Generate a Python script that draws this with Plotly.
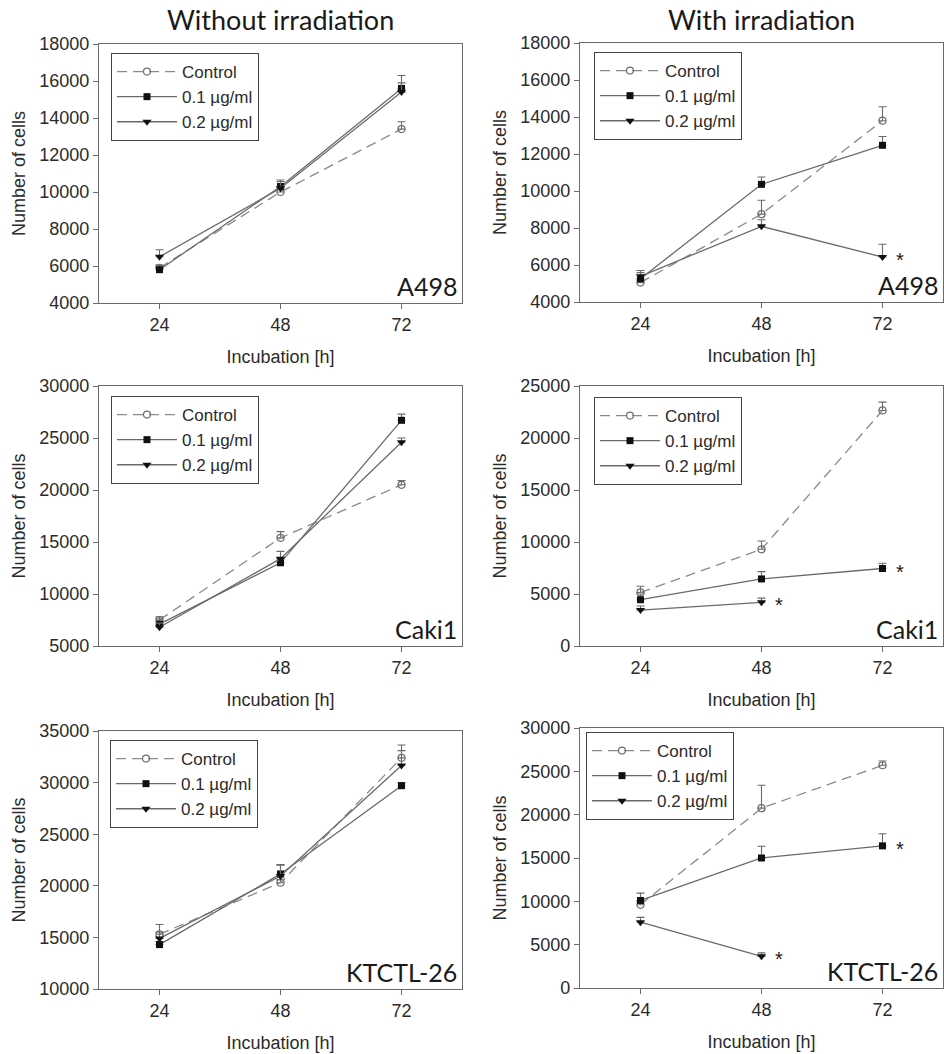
import plotly.graph_objects as go

# ---------------- data ----------------
hours = [24, 48, 72]
series_names = ["Control", "0.1 µg/ml", "0.2 µg/ml"]
col_titles = ["Without irradiation", "With irradiation"]
cell_lines = ["A498", "Caki1", "KTCTL-26"]

# A498 without irradiation
a498_wo_ctrl = [5900, 10000, 13400]
a498_wo_ctrl_err = [150, 250, 400]
a498_wo_01 = [5800, 10300, 15600]
a498_wo_01_err = [200, 270, 300]
a498_wo_02 = [6500, 10200, 15400]
a498_wo_02_err = [380, 450, 900]

# A498 with irradiation
a498_w_ctrl = [5050, 8750, 13800]
a498_w_ctrl_err = [150, 750, 750]
a498_w_01 = [5260, 10360, 12470]
a498_w_01_err = [440, 400, 480]
a498_w_02 = [5390, 8090, 6430]
a498_w_02_err = [200, 360, 690]

# Caki1 without irradiation
caki_wo_ctrl = [7500, 15400, 20500]
caki_wo_ctrl_err = [300, 600, 400]
caki_wo_01 = [7100, 13000, 26700]
caki_wo_01_err = [500, 400, 600]
caki_wo_02 = [6800, 13400, 24600]
caki_wo_02_err = [400, 700, 400]

# Caki1 with irradiation
caki_w_ctrl = [5150, 9300, 22650]
caki_w_ctrl_err = [600, 800, 800]
caki_w_01 = [4450, 6450, 7450]
caki_w_01_err = [550, 700, 500]
caki_w_02 = [3450, 4200, None]
caki_w_02_err = [400, 400, 0]

# KTCTL-26 without irradiation
ktctl_wo_ctrl = [15300, 20300, 32400]
ktctl_wo_ctrl_err = [950, 300, 1250]
ktctl_wo_01 = [14300, 21150, 29700]
ktctl_wo_01_err = [300, 900, 300]
ktctl_wo_02 = [14900, 20950, 31650]
ktctl_wo_02_err = [600, 1050, 1450]

# KTCTL-26 with irradiation
ktctl_w_ctrl = [9600, 20750, 25700]
ktctl_w_ctrl_err = [400, 2650, 500]
ktctl_w_01 = [10100, 15000, 16400]
ktctl_w_01_err = [850, 1350, 1400]
ktctl_w_02 = [7600, 3650, None]
ktctl_w_02_err = [550, 400, 0]

# significance markers: (series index, hour)
a498_w_sig = [(2, 72)]
caki_w_sig = [(1, 72), (2, 48)]
ktctl_w_sig = [(1, 72), (2, 48)]

# y-axis ranges / ticks
a498_range, a498_dtick = [4000, 18000], 2000
caki_wo_range, caki_w_range = [5000, 30000], [0, 25000]
ktctl_wo_range, ktctl_w_range = [10000, 35000], [0, 30000]
big_dtick = 5000

panels = [
    dict(ctrl=(a498_wo_ctrl, a498_wo_ctrl_err), c01=(a498_wo_01, a498_wo_01_err), c02=(a498_wo_02, a498_wo_02_err),
         rng=a498_range, dtick=a498_dtick, label=cell_lines[0], sig=[]),
    dict(ctrl=(a498_w_ctrl, a498_w_ctrl_err), c01=(a498_w_01, a498_w_01_err), c02=(a498_w_02, a498_w_02_err),
         rng=a498_range, dtick=a498_dtick, label=cell_lines[0], sig=a498_w_sig),
    dict(ctrl=(caki_wo_ctrl, caki_wo_ctrl_err), c01=(caki_wo_01, caki_wo_01_err), c02=(caki_wo_02, caki_wo_02_err),
         rng=caki_wo_range, dtick=big_dtick, label=cell_lines[1], sig=[]),
    dict(ctrl=(caki_w_ctrl, caki_w_ctrl_err), c01=(caki_w_01, caki_w_01_err), c02=(caki_w_02, caki_w_02_err),
         rng=caki_w_range, dtick=big_dtick, label=cell_lines[1], sig=caki_w_sig),
    dict(ctrl=(ktctl_wo_ctrl, ktctl_wo_ctrl_err), c01=(ktctl_wo_01, ktctl_wo_01_err), c02=(ktctl_wo_02, ktctl_wo_02_err),
         rng=ktctl_wo_range, dtick=big_dtick, label=cell_lines[2], sig=[]),
    dict(ctrl=(ktctl_w_ctrl, ktctl_w_ctrl_err), c01=(ktctl_w_01, ktctl_w_01_err), c02=(ktctl_w_02, ktctl_w_02_err),
         rng=ktctl_w_range, dtick=big_dtick, label=cell_lines[2], sig=ktctl_w_sig),
]

# ---------------- layout geometry (page pixels) ----------------
W, H = 944, 1054
x_px = [(99, 462), (580, 943)]
y_px = [[(44, 303), (43, 302)], [(386, 646), (386, 646)], [(731, 989), (728, 988)]]
legend_off = [(12, 9), (14, 9), (12, 10), (14, 11), (11, 9), (6, 4)]

def px_x(v):
    return v / W

def px_y(v):
    return 1 - v / H

TXT = "#2b2b2b"
AX = "#6a6a6a"
FONT = "Liberation Sans, Arial, sans-serif"
BIGFONT = "Lato, Open Sans, sans-serif"

styles = [
    dict(line=dict(color="#8a8a8a", width=1.3, dash="10px,6px"),
         marker=dict(symbol="circle-open", size=7, color="#707070", line=dict(width=1.2, color="#707070"))),
    dict(line=dict(color="#6a6a6a", width=1.3),
         marker=dict(symbol="square", size=7, color="#111111")),
    dict(line=dict(color="#6a6a6a", width=1.3),
         marker=dict(symbol="triangle-down", size=8, color="#111111")),
]

fig = go.Figure()
layout = dict(width=W, height=H, margin=dict(l=0, r=0, t=0, b=0, autoexpand=False),
              paper_bgcolor="white", plot_bgcolor="white",
              font=dict(family=FONT, size=18, color=TXT), annotations=[])

for i, p in enumerate(panels):
    r, c = divmod(i, 2)
    n = i + 1
    xa = "x" if n == 1 else f"x{n}"
    ya = "y" if n == 1 else f"y{n}"
    lg = "legend" if n == 1 else f"legend{n}"
    for s, key in enumerate(["ctrl", "c01", "c02"]):
        vals, errs = p[key]
        fig.add_trace(go.Scatter(
            x=hours, y=vals, mode="lines+markers", name=series_names[s],
            xaxis=xa, yaxis=ya, legend=lg,
            line=styles[s]["line"], marker=styles[s]["marker"],
            error_y=dict(type="data", symmetric=False, array=errs, arrayminus=[0] * len(errs),
                         color="#6a6a6a", thickness=1.1, width=4),
        ))
    x0, x1 = x_px[c]
    y0, y1 = y_px[r][c]
    xd = [px_x(x0), px_x(x1)]
    yd = [px_y(y1), px_y(y0)]
    axis_common = dict(showline=True, mirror=True, linecolor=AX, linewidth=1.2,
                       ticks="outside", ticklen=5, tickcolor=AX, showgrid=False, zeroline=False,
                       automargin=False, tickfont=dict(size=18, color=TXT))
    layout["xaxis" if n == 1 else f"xaxis{n}"] = dict(
        domain=xd, anchor=ya, range=[12, 84], tickvals=hours,
        title=dict(text="Incubation [h]", standoff=16, font=dict(size=18, color=TXT)), **axis_common)
    layout["yaxis" if n == 1 else f"yaxis{n}"] = dict(
        domain=yd, anchor=xa, range=p["rng"], dtick=p["dtick"], tick0=0, tickformat="d",
        title=dict(text="Number of cells", standoff=8, font=dict(size=18, color=TXT)), **axis_common)
    lx, ly = legend_off[i]
    layout[lg] = dict(x=px_x(x0 + lx), y=px_y(y0 + ly), xanchor="left", yanchor="top",
                      xref="paper", yref="paper",
                      bordercolor="#444444", borderwidth=1, bgcolor="white",
                      font=dict(size=17, color=TXT), itemwidth=60, tracegroupgap=0)
    # cell line label
    layout["annotations"].append(dict(
        text=p["label"], xref=f"{xa} domain", yref=f"{ya} domain", x=1, y=0,
        xanchor="right", yanchor="bottom", xshift=-3, yshift=0, showarrow=False,
        font=dict(family=BIGFONT, size=25, color="#1a1a1a")))
    # significance asterisks
    series_vals = [p["ctrl"][0], p["c01"][0], p["c02"][0]]
    for s_idx, hr in p["sig"]:
        yv = series_vals[s_idx][hours.index(hr)]
        layout["annotations"].append(dict(
            text="*", x=hr, y=yv, xref=xa, yref=ya, showarrow=False,
            xanchor="center", yanchor="middle", xshift=17, yshift=-3,
            font=dict(size=20, color="#1a1a1a")))

# column titles
for c, t in enumerate(col_titles):
    x0, x1 = x_px[c]
    layout["annotations"].append(dict(
        text=t, xref="paper", yref="paper", x=px_x((x0 + x1) / 2), y=px_y(20),
        xanchor="center", yanchor="middle", showarrow=False,
        font=dict(family=BIGFONT, size=27, color="#1a1a1a")))

fig.update_layout(**layout)
fig.update_layout(showlegend=True)
fig.write_html("out.html", config={"displayModeBar": False},
               post_script="document.body.style.margin='0px';")
